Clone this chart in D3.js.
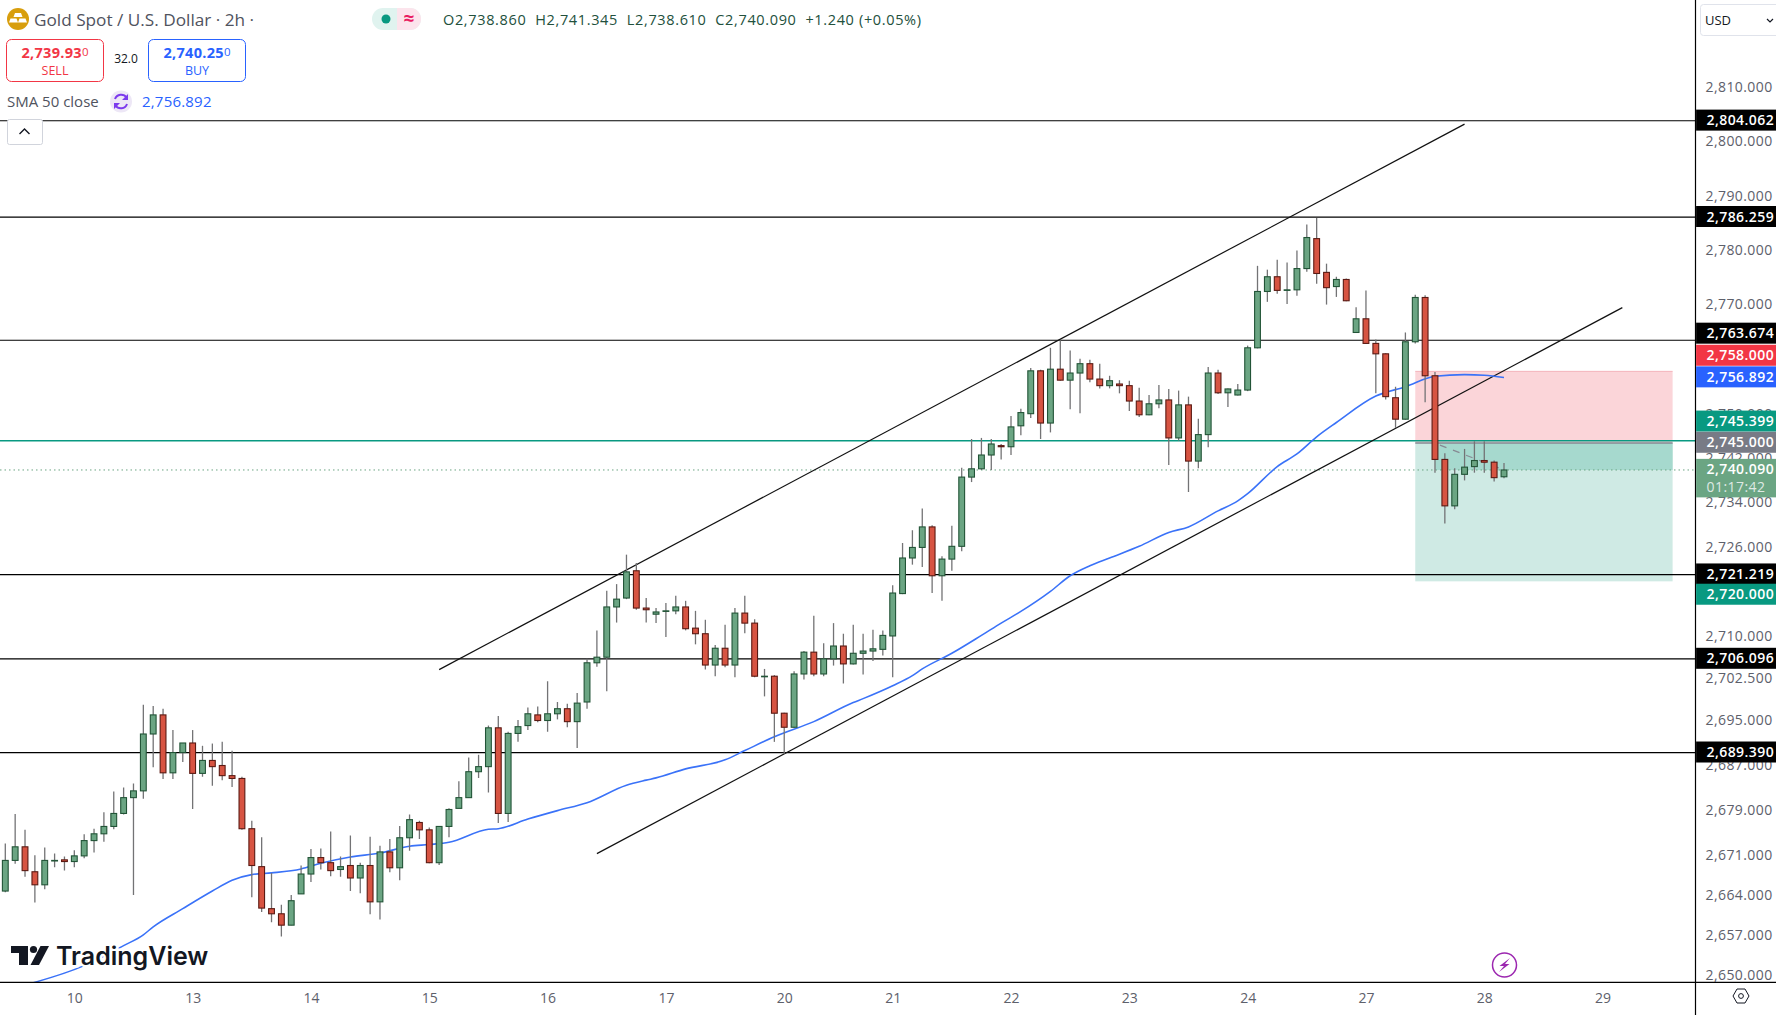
<!DOCTYPE html>
<html>
<head>
<meta charset="utf-8">
<script src="https://cdn.jsdelivr.net/npm/d3@7"></script>
<style>
  html, body { margin: 0; padding: 0; background: #fff; overflow: hidden; }
  text { font-family: "Open Sans", sans-serif; }
</style>
</head>
<body>
<div id="chart"></div>
<script>
// 2h gold candles, one entry per bar, oldest first
var opens = [2664.9,2670.3,2672.7,2668.3,2666.0,2670.2,2670.4,2670.1,2671.1,2673.8,
  2675.0,2676.3,2678.6,2681.4,2682.6,2692.7,2696.1,2685.8,2689.4,2691.1,
  2685.7,2688.0,2687.1,2685.3,2684.8,2675.9,2669.2,2661.8,2660.9,2658.9,
  2664.4,2667.9,2670.8,2669.9,2668.7,2669.4,2667.2,2669.4,2663.0,2671.8,
  2669.0,2674.3,2677.0,2675.7,2669.9,2676.3,2679.5,2681.4,2686.0,2686.9,
  2693.8,2678.6,2692.8,2694.2,2696.1,2695.1,2696.3,2697.2,2694.9,2698.4,
  2705.4,2706.4,2715.4,2717.0,2721.9,2715.2,2714.1,2714.6,2714.7,2715.4,
  2711.6,2710.6,2705.0,2708.0,2705.0,2714.3,2712.5,2702.9,2703.0,2696.4,
  2693.9,2703.4,2707.3,2703.4,2706.1,2708.4,2705.2,2707.1,2707.5,2707.8,
  2710.2,2717.8,2724.2,2726.1,2729.8,2721.0,2724.0,2726.3,2738.8,2740.3,
  2742.8,2744.5,2744.3,2748.1,2750.3,2758.1,2748.6,2758.4,2756.4,2757.7,
  2759.4,2756.6,2755.4,2755.7,2755.4,2752.6,2750.1,2752.1,2752.8,2745.9,
  2751.9,2741.7,2746.5,2757.7,2754.1,2753.7,2754.6,2762.3,2772.6,2775.3,
  2772.8,2772.9,2776.8,2782.3,2776.1,2773.5,2774.8,2765.1,2767.6,2763.1,
  2761.2,2753.2,2749.3,2763.4,2771.5,2757.2,2742.0,2733.6,2739.3,2740.7,
  2741.8,2741.5,2738.86];
var highs = [2673.3,2678.5,2675.7,2671.2,2672.6,2671.5,2671.0,2672.1,2674.9,2675.9,
  2678.8,2682.5,2683.2,2683.9,2697.9,2697.7,2697.2,2693.4,2691.1,2693.4,
  2690.6,2691.0,2691.3,2689.7,2685.1,2677.3,2674.4,2668.1,2662.5,2664.2,
  2669.4,2672.3,2672.4,2675.4,2671.0,2674.7,2669.9,2674.5,2672.9,2674.1,
  2676.4,2678.4,2677.3,2676.1,2676.4,2679.5,2684.3,2688.5,2689.0,2694.2,
  2695.9,2693.1,2695.2,2697.4,2697.6,2702.1,2698.4,2698.1,2700.0,2706.1,
  2711.2,2718.3,2719.5,2724.8,2723.3,2717.0,2715.2,2716.1,2717.4,2716.5,
  2714.7,2713.1,2708.6,2712.2,2715.2,2717.4,2713.2,2704.3,2703.2,2696.5,
  2703.9,2707.5,2713.8,2708.9,2712.5,2710.6,2712.2,2710.6,2711.3,2711.2,
  2719.3,2726.9,2729.2,2733.1,2730.1,2724.5,2730.0,2740.5,2745.7,2745.9,
  2745.7,2744.8,2749.9,2751.2,2758.6,2758.3,2762.3,2763.7,2761.8,2760.3,
  2760.1,2759.4,2757.2,2756.4,2756.3,2755.0,2753.7,2755.5,2754.8,2754.5,
  2753.4,2749.4,2758.8,2758.3,2754.9,2755.7,2762.7,2777.3,2776.6,2778.4,
  2777.9,2780.1,2784.9,2786.1,2777.7,2775.3,2775.0,2769.7,2772.8,2763.8,
  2761.3,2755.2,2765.1,2772.0,2771.9,2757.9,2743.1,2740.4,2743.9,2745.3,
  2745.3,2741.8,2741.345];
var lows = [2664.7,2669.7,2667.4,2662.9,2665.2,2669.1,2668.5,2669.1,2670.7,2671.7,
  2673.6,2675.8,2678.4,2664.2,2681.2,2686.8,2684.7,2684.7,2687.7,2679.4,
  2685.1,2683.5,2684.5,2683.3,2675.7,2663.8,2661.2,2659.4,2656.9,2658.9,
  2664.4,2666.5,2668.7,2667.5,2667.4,2664.9,2664.5,2660.8,2659.9,2668.2,
  2666.8,2672.0,2674.1,2669.8,2669.5,2674.4,2679.5,2681.4,2684.9,2682.3,
  2676.9,2677.1,2691.3,2693.4,2694.8,2693.1,2695.3,2693.9,2690.2,2697.2,
  2704.7,2700.3,2712.6,2716.8,2714.9,2712.6,2712.5,2710.0,2714.1,2711.2,
  2708.7,2704.2,2703.0,2704.6,2702.8,2710.7,2702.8,2699.4,2691.3,2689.2,
  2693.8,2702.4,2703.0,2703.0,2704.9,2701.7,2705.1,2703.3,2705.7,2706.7,
  2702.8,2717.7,2723.0,2722.6,2717.9,2716.5,2721.9,2725.4,2737.9,2740.1,
  2740.1,2742.0,2742.8,2746.4,2749.5,2745.7,2746.9,2756.3,2751.1,2750.4,
  2756.0,2754.9,2754.9,2754.0,2750.8,2749.7,2750.0,2751.3,2741.0,2745.4,
  2736.1,2740.4,2744.2,2753.9,2751.5,2753.6,2754.4,2762.2,2770.7,2772.2,
  2770.3,2771.8,2776.2,2774.0,2770.2,2771.6,2770.8,2765.0,2763.0,2754.0,
  2752.9,2747.7,2749.2,2763.1,2752.4,2739.6,2730.4,2733.0,2738.2,2739.6,
  2739.6,2738.0,2738.61];
var closes = [2670.3,2672.7,2668.5,2666.0,2670.3,2670.3,2670.1,2671.1,2673.8,2675.0,
  2676.3,2678.6,2681.4,2682.6,2692.7,2696.1,2685.8,2689.4,2691.1,2685.7,
  2688.0,2686.9,2685.3,2684.8,2675.9,2669.4,2661.9,2660.9,2658.9,2663.2,
  2667.9,2670.8,2669.9,2668.5,2669.2,2667.2,2669.4,2663.0,2671.8,2669.0,
  2674.3,2677.5,2675.7,2669.9,2676.3,2679.3,2681.4,2686.0,2686.9,2693.8,
  2678.6,2692.8,2694.0,2696.3,2695.1,2696.3,2697.2,2694.9,2698.2,2705.4,
  2706.4,2715.4,2716.8,2721.7,2715.2,2714.9,2714.5,2714.7,2715.4,2711.5,
  2710.6,2705.0,2708.0,2705.0,2714.3,2712.5,2703.0,2703.0,2696.4,2693.9,
  2703.4,2707.3,2703.4,2706.1,2708.4,2705.2,2707.1,2707.5,2707.9,2710.3,
  2717.9,2724.2,2726.1,2729.8,2721.0,2724.0,2726.3,2738.8,2740.3,2742.8,
  2744.8,2744.3,2747.9,2750.5,2758.1,2748.6,2758.4,2756.4,2757.7,2759.4,
  2756.6,2755.4,2756.3,2755.4,2752.6,2750.1,2752.1,2752.8,2745.9,2751.9,
  2741.7,2746.5,2757.7,2754.1,2754.8,2754.6,2762.3,2772.6,2775.3,2772.8,
  2772.9,2776.8,2782.5,2775.9,2773.3,2774.8,2770.9,2767.6,2763.1,2761.2,
  2753.4,2749.3,2763.4,2771.5,2757.2,2742.0,2733.6,2739.3,2740.6,2741.8,
  2741.5,2738.7,2740.09];

var smaBars = [2,8,12,14,15,18,21,23,25,27,30,32,35,38,41,43,45,49,50,53,56,59,63,65,66,69,73,75,
  78,82,86,87,90,92,93,96,99,101,103,106,108,110,112,115,118,120,123,125,126,129,131,133,135,139,142,145,148,150,152];
var smaValues = [2648.4,2651.8,2655.3,2657.2,2658.6,2661.8,2664.9,2666.8,2667.8,2668.1,2668.8,2669.8,
  2670.9,2671.6,2672.8,2673.1,2673.5,2675.8,2675.9,2677.6,2679.1,2680.5,2683.6,2684.5,2684.9,2686.5,
  2688.1,2689.75,2692.2,2694.9,2698.3,2699.0,2701.3,2703.1,2704.3,2707.1,2710.3,2712.5,2714.6,2718.2,
  2721.0,2722.8,2724.2,2726.3,2728.8,2729.8,2732.7,2734.5,2735.8,2740.7,2743.0,2746.1,2748.7,2753.5,
  2755.2,2757.1,2757.4,2757.3,2756.892];

// horizontal levels and the two channel lines
var levels = [2804.062, 2786.259, 2763.674, 2721.219, 2706.096, 2689.39];
var upperChannelBars = [44, 148];
var upperChannelPrices = [2704.18, 2803.43];
var lowerChannelBars = [60, 164];
var lowerChannelPrices = [2671.5, 2769.64];

// long position tool
var positionBars = [143, 169.1];
var positionStop = 2758;
var positionEntry = 2745;
var positionTarget = 2720;
var profitStartBar = 145;
var entryPathBars = [145.5, 152];
var entryPathPrices = [2744.6, 2740.09];

var bidLine = 2745.399;
var lastClose = 2740.09;

// axis ticks, day labels sit on the first bar of the day
var priceTicks = [2810,2800,2790,2780,2770,2750,2742,2734,2726,2710,2702.5,2695,2687,2679,2671,2664,2657,2650];
var dayBars = [7,19,31,43,55,67,79,90,102,114,126,138,150,162];
var dayLabels = ['10','13','14','15','16','17','20','21','22','23','24','27','28','29'];

// price tags on the axis
var tagValues = [2804.062,2786.259,2763.674,2758,2756.892,2745.399,2745,2740.09,2721.219,2720,2706.096,2689.39];
var tagColors = ['#000','#000','#000','#f23645','#2962ff','#089981','#787b86','#6ba583','#000','#089981','#000','#000'];

var width = 1776, height = 1015, axisX = 1695.5, bottomY = 982.3;

var svg = d3.select('#chart').append('svg')
    .attr('width', width)
    .attr('height', height)
    .style('display', 'block');

var x = d3.scaleLinear().domain([0, 152]).range([5.3, 1504]);
var y = d3.scaleLog().domain([2650, 2810]).range([975.9, 88.7]);

svg.append('defs').append('clipPath')
    .attr('id', 'plot')
  .append('rect')
    .attr('width', axisX)
    .attr('height', bottomY);

var plot = svg.append('g').attr('clip-path', 'url(#plot)');

// position boxes
var boxX = x(positionBars[0]), boxW = x(positionBars[1]) - boxX;
plot.append('rect').attr('x', boxX).attr('y', y(positionStop))
    .attr('width', boxW).attr('height', y(positionEntry) - y(positionStop))
    .attr('fill', '#fbd5d9');
plot.append('rect').attr('x', boxX).attr('y', y(positionEntry))
    .attr('width', boxW).attr('height', y(positionTarget) - y(positionEntry))
    .attr('fill', '#cfeae4');
plot.append('rect').attr('x', x(profitStartBar)).attr('y', y(positionEntry))
    .attr('width', boxX + boxW - x(profitStartBar)).attr('height', y(lastClose) - y(positionEntry))
    .attr('fill', '#a6d9ce');
plot.append('line').attr('x1', boxX).attr('x2', boxX + boxW)
    .attr('y1', y(positionStop)).attr('y2', y(positionStop))
    .attr('stroke', '#f4b3bb').attr('stroke-width', 1);
plot.append('line').attr('x1', boxX).attr('x2', boxX + boxW)
    .attr('y1', y(positionEntry)).attr('y2', y(positionEntry))
    .attr('stroke', '#868993').attr('stroke-width', 1.5);

// levels
plot.selectAll('.level')
    .data(levels)
  .enter().append('line')
    .attr('class', 'level')
    .attr('x1', 0).attr('x2', axisX)
    .attr('y1', function(d) { return y(d); })
    .attr('y2', function(d) { return y(d); })
    .attr('stroke', '#000')
    .attr('stroke-width', 1.15);

plot.append('line').attr('x1', 0).attr('x2', axisX)
    .attr('y1', y(bidLine)).attr('y2', y(bidLine))
    .attr('stroke', '#089981').attr('stroke-width', 1.4);
plot.append('line').attr('x1', 0).attr('x2', axisX)
    .attr('y1', y(lastClose)).attr('y2', y(lastClose))
    .attr('stroke', '#6ba583').attr('stroke-width', 1)
    .attr('stroke-dasharray', '1.5 3');

// channel
[[upperChannelBars, upperChannelPrices], [lowerChannelBars, lowerChannelPrices]].forEach(function(c) {
    plot.append('line')
        .attr('x1', x(c[0][0])).attr('y1', y(c[1][0]))
        .attr('x2', x(c[0][1])).attr('y2', y(c[1][1]))
        .attr('stroke', '#111')
        .attr('stroke-width', 1.2);
});

// sma
var smaLine = d3.line()
    .x(function(d, i) { return x(smaBars[i]); })
    .y(function(d) { return y(d); })
    .curve(d3.curveMonotoneX);
plot.append('path')
    .attr('d', smaLine(smaValues))
    .attr('fill', 'none')
    .attr('stroke', '#3a72f8')
    .attr('stroke-width', 1.6);

// entry path of the position tool
plot.append('line')
    .attr('x1', x(entryPathBars[0])).attr('y1', y(entryPathPrices[0]))
    .attr('x2', x(entryPathBars[1])).attr('y2', y(entryPathPrices[1]))
    .attr('stroke', '#868993').attr('stroke-width', 1.2)
    .attr('stroke-dasharray', '7 7');

// candles
var bars = plot.selectAll('.bar')
    .data(d3.range(opens.length))
  .enter().append('g')
    .attr('class', 'bar');

bars.append('line')
    .attr('x1', function(i) { return x(i); })
    .attr('x2', function(i) { return x(i); })
    .attr('y1', function(i) { return y(highs[i]); })
    .attr('y2', function(i) { return y(lows[i]); })
    .attr('stroke', '#737375')
    .attr('stroke-width', 1.3);

bars.append('rect')
    .attr('x', function(i) { return x(i) - 2.9; })
    .attr('width', 5.8)
    .attr('y', function(i) { return y(Math.max(opens[i], closes[i])); })
    .attr('height', function(i) { return Math.abs(y(opens[i]) - y(closes[i])); })
    .attr('fill', function(i) { return closes[i] >= opens[i] ? '#6ba583' : '#d75442'; })
    .attr('stroke', function(i) { return closes[i] >= opens[i] ? '#225437' : '#5b1a13'; })
    .attr('stroke-width', 1.1);

// watermark
var logo = svg.append('g').attr('fill', '#131722');
logo.append('text')
    .attr('x', 56).attr('y', 965)
    .style('font-family', 'Inter, sans-serif')
    .style('font-weight', 600)
    .style('font-size', '25px')
    .style('paint-order', 'stroke')
    .attr('stroke', '#fff').attr('stroke-width', 5)
    .text('TradingView');
logo.append('path').attr('d', 'M11 946H28V965H19V953H11Z');
logo.append('circle').attr('cx', 33.5).attr('cy', 949.5).attr('r', 3.6);
logo.append('path').attr('d', 'M40.5 946H49L39 965H30.5Z');

// lightning badge
svg.append('circle').attr('cx', 1504.5).attr('cy', 965).attr('r', 12)
    .attr('fill', '#fff').attr('stroke', '#9c27b0').attr('stroke-width', 1.5);
svg.append('path').attr('d', 'M1510 958L1499.5 966H1504L1499 972L1509.5 964H1505Z').attr('fill', '#9c27b0');

// axis frame
svg.append('rect').attr('x', axisX).attr('width', width - axisX).attr('height', height).attr('fill', '#fff');
svg.append('rect').attr('y', bottomY).attr('width', axisX).attr('height', height - bottomY).attr('fill', '#fff');

var priceAxis = d3.axisRight(y)
    .tickValues(priceTicks)
    .tickFormat(d3.format(',.3f'))
    .tickSize(0)
    .tickPadding(10);
var priceG = svg.append('g').attr('transform', 'translate(' + axisX + ',-1.2)').call(priceAxis);
priceG.select('.domain').remove();
priceG.selectAll('text')
    .style('font-family', '"Open Sans", sans-serif')
    .style('font-size', '14px')
    .style('letter-spacing', '0.42px')
    .attr('fill', '#5d606b');

var dayAxis = d3.axisBottom(x)
    .tickValues(dayBars)
    .tickFormat(function(d, i) { return dayLabels[i]; })
    .tickSize(0)
    .tickPadding(11);
var dayG = svg.append('g').attr('transform', 'translate(0,' + bottomY + ')').call(dayAxis);
dayG.select('.domain').remove();
dayG.selectAll('text')
    .style('font-family', '"Open Sans", sans-serif')
    .style('font-size', '14px')
    .attr('fill', '#5d606b');

svg.append('line').attr('x1', axisX).attr('x2', axisX).attr('y1', 0).attr('y2', height)
    .attr('stroke', '#000').attr('stroke-width', 1.2);
svg.append('line').attr('x1', 0).attr('x2', width).attr('y1', bottomY).attr('y2', bottomY)
    .attr('stroke', '#000').attr('stroke-width', 1.2);

// tags get pushed apart like the real scale does
var tagNudge = { 2: -6.5, 3: -15.5, 5: -19, 9: 13.5 };
var tags = svg.selectAll('.tag')
    .data(tagValues)
  .enter().append('g')
    .attr('class', 'tag')
    .attr('transform', function(d, i) { return 'translate(' + (axisX + 0.6) + ',' + (y(d) - 0.6 + (tagNudge[i] || 0)) + ')'; });

tags.append('rect')
    .attr('y', -10.5)
    .attr('width', width - axisX)
    .attr('height', function(d, i) { return i == 7 ? 38.5 : 21; })
    .attr('fill', function(d, i) { return tagColors[i]; });

tags.append('text')
    .attr('x', 10.5)
    .attr('y', 5)
    .attr('fill', '#fff')
    .style('font-size', '14px')
    .style('letter-spacing', '0.42px')
    .style('font-weight', 600)
    .text(function(d) { return d3.format(',.3f')(d); });

d3.select(tags.nodes()[7]).append('text')
    .attr('x', 10.5)
    .attr('y', 23)
    .attr('fill', '#dfe9e3')
    .style('font-size', '14px')
    .style('letter-spacing', '0.42px')
    .text('01:17:42');

// currency box
svg.append('rect').attr('x', 1700.5).attr('y', 4.5).attr('width', 90).attr('height', 31).attr('rx', 3)
    .attr('fill', '#fff').attr('stroke', '#e0e3eb');
svg.append('text').attr('x', 1705).attr('y', 25).attr('fill', '#131722')
    .style('font-size', '13px').text('USD');
svg.append('path').attr('d', 'M1767 19l3 3 3-3').attr('fill', 'none').attr('stroke', '#131722').attr('stroke-width', 1.2);

// settings hexagon
svg.append('path').attr('d', 'M1733 996l4-7h8l4 7-4 7h-8z').attr('fill', 'none').attr('stroke', '#131722').attr('stroke-width', 1);
svg.append('circle').attr('cx', 1741).attr('cy', 996).attr('r', 2.4).attr('fill', 'none').attr('stroke', '#131722');

// header
svg.append('circle').attr('cx', 18).attr('cy', 19).attr('r', 11).attr('fill', '#d89e0d');
svg.append('path').attr('d', 'M15 13h6l1.5 4h-9zM10.5 18.5h6l1.5 4H9zM19.5 18.5h6l1.5 4h-9z').attr('fill', '#fff');

svg.append('text').attr('x', 34).attr('y', 26).attr('fill', '#50535e')
    .style('font-size', '17.2px').text('Gold Spot / U.S. Dollar \u00b7 2h \u00b7');

svg.append('rect').attr('x', 372).attr('y', 8).attr('width', 49).attr('height', 22).attr('rx', 11).attr('fill', '#e0f3ef');
svg.append('path').attr('d', 'M397 8h13a11 11 0 0 1 0 22h-13z').attr('fill', '#fce4ec');
svg.append('circle').attr('cx', 386).attr('cy', 19).attr('r', 4.5).attr('fill', '#089981');
svg.append('text').attr('x', 409).attr('y', 25).attr('text-anchor', 'middle').attr('fill', '#e91e63')
    .style('font-size', '19px').style('font-weight', 700).text('\u2248');

svg.append('text').attr('x', 443).attr('y', 24.5).attr('fill', '#22503c')
    .style('font-size', '14.5px').style('letter-spacing', '0.65px').style('white-space', 'pre')
    .text('O2,738.860  H2,741.345  L2,738.610  C2,740.090  +1.240 (+0.05%)');

// sell / buy boxes
svg.append('rect').attr('x', 6.5).attr('y', 39.5).attr('width', 97).attr('height', 42).attr('rx', 5)
    .attr('fill', '#fff').attr('stroke', '#f23645');
svg.append('rect').attr('x', 148.5).attr('y', 39.5).attr('width', 97).attr('height', 42).attr('rx', 5)
    .attr('fill', '#fff').attr('stroke', '#2962ff');

function quote(cx, price, tail, label, color) {
    var t = svg.append('text').attr('x', cx).attr('y', 58).attr('text-anchor', 'middle').attr('fill', color);
    t.append('tspan').style('font-size', '14.5px').style('font-weight', 700).style('letter-spacing', '0.3px').text(price);
    t.append('tspan').attr('dy', -2).style('font-size', '11.5px').text(tail);
    svg.append('text').attr('x', cx).attr('y', 75).attr('text-anchor', 'middle').attr('fill', color)
        .style('font-size', '12.5px').text(label);
}
quote(55, '2,739.93', '0', 'SELL', '#f23645');
quote(197, '2,740.25', '0', 'BUY', '#2962ff');

svg.append('text').attr('x', 126).attr('y', 63).attr('text-anchor', 'middle').attr('fill', '#131722')
    .style('font-size', '12px').text('32.0');

// sma legend
svg.append('text').attr('x', 7).attr('y', 107).attr('fill', '#50535e')
    .style('font-size', '15px').text('SMA 50 close');
svg.append('circle').attr('cx', 121).attr('cy', 101.5).attr('r', 11).attr('fill', '#ede7f6');
svg.append('path').attr('d', 'M115 99a6.5 6.5 0 0 1 11.5-1.5M127 104a6.5 6.5 0 0 1-11.5 1.5')
    .attr('fill', 'none').attr('stroke', '#7c3aed').attr('stroke-width', 2);
svg.append('path').attr('d', 'M128 94v6h-6zM114 109v-6h6z').attr('fill', '#7c3aed');
svg.append('text').attr('x', 142).attr('y', 107).attr('fill', '#2962ff')
    .style('font-size', '15px').style('letter-spacing', '0.2px').text('2,756.892');

// collapse button
svg.append('rect').attr('x', 7.5).attr('y', 119.5).attr('width', 35).attr('height', 25).attr('rx', 2)
    .attr('fill', '#fff').attr('stroke', '#d1d4dc');
svg.append('path').attr('d', 'M19.5 134l5-5 5 5').attr('fill', 'none').attr('stroke', '#131722').attr('stroke-width', 1.4);
</script>
</body>
</html>
